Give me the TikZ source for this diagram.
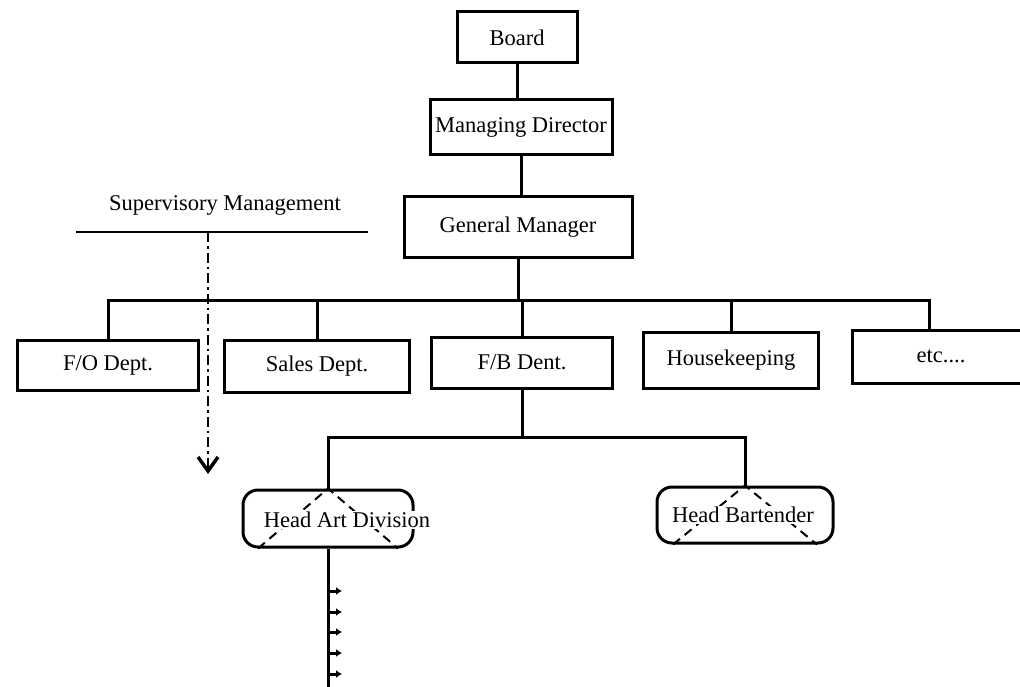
\documentclass[tikz,border=0pt]{standalone}
\usepackage{fontspec}
\setmainfont{Liberation Serif}
\usetikzlibrary{arrows.meta,calc}

\tikzset{
  orgline/.style={line width=3pt},
  unitbox/.style={draw,line width=3pt,inner sep=2pt},
  headbox/.style={draw,line width=3pt,rectangle,rounded corners=15pt,inner sep=0pt},
  headtext/.style={fill=white,inner sep=1pt},
  innerdash/.style={line width=2pt,dash pattern=on 9pt off 6pt},
  supline/.style={line width=2pt,dash pattern=on 10pt off 4pt on 2.5pt off 4pt,
    -{Straight Barb[length=14pt,width=20pt,line width=3.5pt]}},
}

\begin{document}
\begin{tikzpicture}[x=1pt,y=-1pt,font=\fontsize{22.5}{26}\selectfont]
\useasboundingbox (0,0) rectangle (1020,687);
\clip (0,0) rectangle (1020,687);

% top of the chart
\node[unitbox,minimum width=120pt,minimum height=51pt] (board) at (517,37.5) {Board};
\node[unitbox,minimum width=182pt,minimum height=55pt] (md) at (521,127.5) {Managing Director};
\node[unitbox,minimum width=228pt,minimum height=60pt] (gm) at (518,227) {General Manager};
\draw[orgline] (board.south) -- (board.south |- md.north);
\draw[orgline] (md.south) -- (md.south |- gm.north);

% departments
\node[unitbox,minimum width=181pt,minimum height=50pt] (fo) at (108,365) {F/O Dept.};
\node[unitbox,minimum width=185pt,minimum height=52pt] (sales) at (317,366) {Sales Dept.};
\node[unitbox,minimum width=181pt,minimum height=51pt] (fb) at (522,362.5) {F/B Dent.};
\node[unitbox,minimum width=175pt,minimum height=56pt] (hk) at (731,360) {Housekeeping};
\node[unitbox,minimum width=178pt,minimum height=53pt] (etc) at (941,356.5) {etc....};

\coordinate (busr) at (929,300);
\draw[orgline] (gm.south) -- (gm.south |- busr);
\draw[orgline] (fo.north) |- (busr) -- (busr |- etc.north);
\draw[orgline] (sales.north) -- (sales.north |- busr);
\draw[orgline] (fb.north) -- (fb.north |- busr);
\draw[orgline] (hk.north) -- (hk.north |- busr);

% heads under F/B
\node[headbox,minimum width=170pt,minimum height=57pt] (hart) at (328,518.5) {};
\node[headbox,minimum width=176pt,minimum height=56pt] (hbar) at (745,515) {};
\coordinate (subbus) at (522,437);
\draw[orgline] (fb.south) -- (subbus);
\draw[orgline] (hart.north) |- (subbus) -| (hbar.north);

\draw[innerdash] ($(hart.south)+(-70,0)$) -- (hart.north) -- ($(hart.south)+(70,0)$);
\draw[innerdash] ($(hbar.south)+(-72,0)$) -- (hbar.north) -- ($(hbar.south)+(72,0)$);
\node[headtext] (hartlabel) at (347,520) {Head Art Division};
\node[headtext] (hbarlabel) at (743,515) {Head Bartender};

\draw[orgline] (hart.south) -- ++(0,145);
\foreach \ty in {591,612,632,653,674}
  \draw[orgline,-{Latex[length=6pt,width=8pt]}] (hart.south |- 0,\ty) -- ++(14,0);

% supervisory management
\node (supv) at (225,205) {Supervisory Management};
\coordinate (supl) at (76,232);
\coordinate (supr) at (368,232);
\draw[line width=2pt] (supl) -- (supr);
\coordinate (supfrom) at (208,232);
\coordinate (supto) at (208,474);
\draw[supline] (supfrom) -- (supto);
\end{tikzpicture}
\end{document}
